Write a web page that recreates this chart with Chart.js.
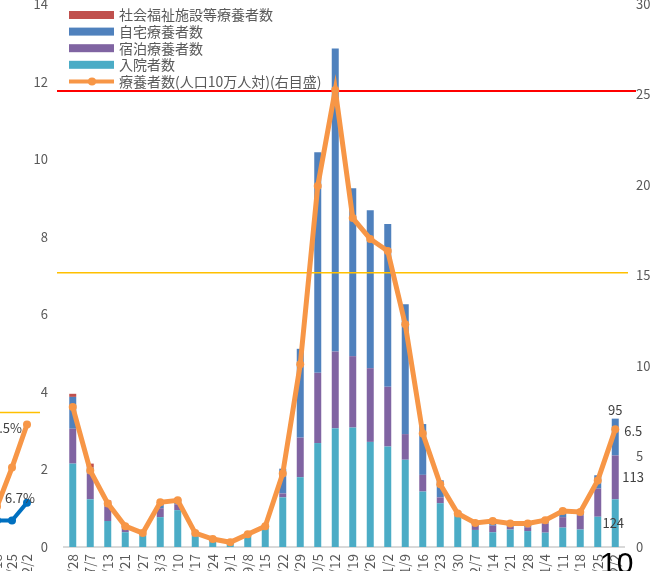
<!DOCTYPE html>
<html>
<head>
<meta charset="utf-8">
<script src="https://cdn.jsdelivr.net/npm/chart.js@4.4.1/dist/chart.umd.min.js"></script>
<style>
  html, body { margin: 0; padding: 0; background: #fff; overflow: hidden; }
  #wrap { position: relative; width: 666px; height: 571px; overflow: hidden; }
  #prev { position: absolute; left: -7px; top: 0; }
  #chart { position: absolute; left: 0; top: 0; }
  #pageNo { position: absolute; left: 600px; top: 548px; font: 30px 'Liberation Sans', sans-serif; line-height: 30px; color: #000; }
</style>
</head>
<body>
<div id="wrap">
  <canvas id="prev" width="47" height="571"></canvas>
  <canvas id="chart" width="666" height="571"></canvas>
  <div id="pageNo">10</div>
</div>
<script>
Chart.defaults.font.family = "'Noto Sans CJK JP', 'Noto Sans', sans-serif"
Chart.defaults.color = '#595959'

// weekly dates (only the tail of each label is visible)
const dates = ['6/28', '7/7', '7/13', '7/21', '7/27', '8/3', '8/10', '8/17', '8/24', '9/1', '9/8', '9/15', '9/22', '9/29', '10/5', '10/12',
    '10/19', '10/26', '11/2', '11/9', '11/16', '11/23', '11/30', '12/7', '12/14', '12/21', '12/28', '1/4', '1/11', '1/18', '1/25', '2/2']

// stacked bars (left axis)
const hospitalized = [2.15, 1.23, 0.67, 0.38, 0.30, 0.77, 0.95, 0.28, 0.18, 0.13, 0.33, 0.55, 1.28, 1.80, 2.68, 3.06,
    3.08, 2.71, 2.59, 2.25, 1.43, 1.13, 0.88, 0.44, 0.38, 0.45, 0.41, 0.37, 0.50, 0.45, 0.78, 1.23]
const hotel = [0.90, 0.67, 0.38, 0.13, 0.02, 0.23, 0.15, 0.05, 0.01, 0, 0.02, 0.02, 0.10, 1.02, 1.81, 1.98,
    1.84, 1.90, 1.54, 0.66, 0.43, 0.15, 0.03, 0.13, 0.17, 0.07, 0.10, 0.24, 0.27, 0.37, 0.73, 1.13]
const home = [0.82, 0.15, 0.08, 0.02, 0, 0.08, 0.10, 0.03, 0, 0, 0, 0, 0.64, 2.29, 5.69, 7.81,
    4.33, 4.07, 4.20, 3.35, 1.31, 0.44, 0.02, 0.08, 0.10, 0.08, 0.13, 0.13, 0.17, 0.08, 0.34, 0.95]
const welfare = [0.08, 0.10, 0.07, 0.03, 0, 0.03, 0.04, 0, 0, 0, 0, 0, 0, 0, 0, 0,
    0, 0, 0, 0, 0, 0, 0, 0, 0, 0, 0, 0, 0, 0, 0, 0]

// line (right axis)
const per100k = [7.73, 4.22, 2.41, 1.15, 0.77, 2.47, 2.58, 0.77, 0.44, 0.26, 0.71, 1.15, 4.06, 10.09, 19.95, 25.25,
    18.17, 17.02, 16.35, 12.30, 6.27, 3.46, 1.85, 1.33, 1.43, 1.30, 1.30, 1.48, 1.99, 1.94, 3.68, 6.50]

// horizontal reference lines on the right axis
const redLevel = 25.2
const yellowLevel = 15.15

// numbers printed next to the last bar
const lastBarLabels = { home: '95', hotel: '113', hospitalized: '124' }
const lastLineLabel = '6.5'

// the neighbouring chart that is cut off at the left edge
const prevDates = ['1/18', '1/25', '2/2']
const prevOrange = [6.1, 12.0, 18.5]
const prevBlue = [4.0, 4.0, 6.7]
const prevYellowLevel = 20.3

const COLORS = {
    welfare: '#C0504D',
    home: '#4F81BD',
    hotel: '#8064A2',
    hospitalized: '#4BACC6',
    line: '#F79646',
}

function bar(label, data, color) {
    return {
        type: 'bar',
        label: label,
        data: data,
        backgroundColor: color,
        borderWidth: 0,
        barPercentage: 0.4,
        categoryPercentage: 1,
        stack: 'a',
        yAxisID: 'y',
        order: 1,
    }
}

const hospitalizedSet = bar('入院者数', hospitalized, COLORS.hospitalized)
const hotelSet = bar('宿泊療養者数', hotel, COLORS.hotel)
const homeSet = bar('自宅療養者数', home, COLORS.home)
const welfareSet = bar('社会福祉施設等療養者数', welfare, COLORS.welfare)

const lineSet = {
    type: 'line',
    label: '療養者数(人口10万人対)(右目盛)',
    data: per100k,
    borderColor: COLORS.line,
    backgroundColor: COLORS.line,
    borderWidth: 5,
    pointRadius: 4,
    pointHoverRadius: 4,
    pointBackgroundColor: COLORS.line,
    pointBorderWidth: 0,
    tension: 0,
    yAxisID: 'y1',
    order: 0,
}

const legendOrder = [welfareSet, homeSet, hotelSet, hospitalizedSet, lineSet]

const excelLegend = {
    id: 'excelLegend',
    afterDraw(chart) {
        const { ctx, chartArea } = chart
        const x0 = chartArea.left + 5
        ctx.save()
        ctx.font = "14px 'Noto Sans CJK JP'"
        ctx.textBaseline = 'middle'
        legendOrder.forEach((ds, i) => {
            const y = chartArea.top + 11 + i * 16.6
            if (ds.type === 'line') {
                ctx.strokeStyle = ds.borderColor
                ctx.lineWidth = 4
                ctx.beginPath()
                ctx.moveTo(x0, y)
                ctx.lineTo(x0 + 45, y)
                ctx.stroke()
                ctx.fillStyle = ds.borderColor
                ctx.beginPath()
                ctx.arc(x0 + 23, y, 4, 0, Math.PI * 2)
                ctx.fill()
            } else {
                ctx.fillStyle = ds.backgroundColor
                ctx.fillRect(x0, y - 4, 45, 8)
            }
            ctx.fillStyle = '#595959'
            ctx.fillText(ds.label, x0 + 50, y)
        })
        ctx.restore()
    }
}

const refLines = {
    id: 'refLines',
    beforeDatasetDraw(chart, args) {
        if (args.meta.type !== 'line') return
        const { ctx, chartArea, scales } = chart
        ctx.save()
        let y = scales.y1.getPixelForValue(yellowLevel)
        ctx.strokeStyle = '#FFC000'
        ctx.lineWidth = 1.5
        ctx.beginPath()
        ctx.moveTo(chartArea.left - 7, y)
        ctx.lineTo(chartArea.right + 4, y)
        ctx.stroke()
        y = scales.y1.getPixelForValue(redLevel)
        ctx.strokeStyle = '#FF0000'
        ctx.lineWidth = 2
        ctx.beginPath()
        ctx.moveTo(chartArea.left - 7, y)
        ctx.lineTo(chartArea.right + 12, y)
        ctx.stroke()
        ctx.restore()
    }
}

const lastLabels = {
    id: 'lastLabels',
    afterDatasetsDraw(chart) {
        const { ctx } = chart
        const last = dates.length - 1
        const barOf = ds => chart.getDatasetMeta(chart.data.datasets.indexOf(ds)).data[last]
        const t = barOf(hospitalizedSet), p = barOf(hotelSet), h = barOf(homeSet)
        const pt = chart.getDatasetMeta(chart.data.datasets.indexOf(lineSet)).data[last]
        ctx.save()
        ctx.font = "13px 'Noto Sans CJK JP'"
        ctx.fillStyle = '#404040'
        ctx.textBaseline = 'middle'
        ctx.textAlign = 'center'
        ctx.fillText(lastBarLabels.home, h.x, h.y - 9)
        ctx.fillText(lastBarLabels.hospitalized, t.x - 2, (t.y + t.base) / 2)
        ctx.textAlign = 'left'
        ctx.fillText(lastLineLabel, pt.x + 9, pt.y + 1.5)
        ctx.fillText(lastBarLabels.hotel, p.x + 7, (p.y + p.base) / 2)
        ctx.restore()
    }
}

const tickFont = { size: 13 }
const dateFont = { size: 13.5 }

new Chart(document.getElementById('chart'), {
    data: {
        labels: dates,
        datasets: [hospitalizedSet, hotelSet, homeSet, welfareSet, lineSet]
    },
    plugins: [refLines, lastLabels, excelLegend],
    options: {
        responsive: false,
        animation: false,
        layout: { padding: 0 },
        plugins: {
            legend: { display: false },
            tooltip: { enabled: false },
        },
        scales: {
            x: {
                stacked: true,
                offset: true,
                grid: { display: false, drawTicks: false },
                border: { display: true, color: '#D9D9D9', width: 2 },
                ticks: { autoSkip: false, minRotation: 90, maxRotation: 90, padding: 7, font: dateFont },
                afterFit: s => { s.height = 24; s.paddingLeft = 0; s.paddingRight = 0 }
            },
            y: {
                stacked: true,
                position: 'left',
                min: 0,
                max: 14,
                grid: { display: false, drawTicks: false },
                border: { display: false },
                ticks: { stepSize: 2, padding: 16, font: tickFont },
                afterFit: s => { s.width = 64; s.paddingTop = 0; s.paddingBottom = 0 }
            },
            y1: {
                position: 'right',
                min: 0,
                max: 30,
                grid: { display: false, drawTicks: false },
                border: { display: false },
                ticks: { stepSize: 5, padding: 12, font: tickFont },
                afterFit: s => { s.width = 42; s.paddingTop = 0; s.paddingBottom = 0 }
            }
        }
    }
})

// left-edge remnant of the previous chart
const prevExtras = {
    id: 'prevExtras',
    beforeDatasetsDraw(chart) {
        const { ctx, chartArea, scales } = chart
        const y = scales.y.getPixelForValue(prevYellowLevel)
        ctx.save()
        ctx.strokeStyle = '#FFC000'
        ctx.lineWidth = 1.5
        ctx.beginPath()
        ctx.moveTo(chartArea.left, y)
        ctx.lineTo(chartArea.right + 13, y)
        ctx.stroke()
        ctx.restore()
    },
    afterDatasetsDraw(chart) {
        const { ctx } = chart
        const o = chart.getDatasetMeta(0).data[2]
        const b = chart.getDatasetMeta(1).data[2]
        ctx.save()
        ctx.font = "13px 'Noto Sans CJK JP'"
        ctx.fillStyle = '#404040'
        ctx.textBaseline = 'middle'
        ctx.textAlign = 'right'
        ctx.fillText(prevOrange[2].toFixed(1) + '%', o.x - 5, o.y + 4)
        ctx.textAlign = 'center'
        ctx.fillText(prevBlue[2].toFixed(1) + '%', b.x - 7, b.y - 5)
        ctx.restore()
    }
}

new Chart(document.getElementById('prev'), {
    type: 'line',
    data: {
        labels: prevDates,
        datasets: [
            { data: prevOrange, borderColor: COLORS.line, backgroundColor: COLORS.line, borderWidth: 5, pointRadius: 4, pointBorderWidth: 0 },
            { data: prevBlue, borderColor: '#0070C0', backgroundColor: '#0070C0', borderWidth: 4, pointRadius: 4, pointBorderWidth: 0 },
        ]
    },
    plugins: [prevExtras],
    options: {
        responsive: false,
        animation: false,
        layout: { padding: { left: 0, right: 13, top: 0, bottom: 0 } },
        plugins: { legend: { display: false }, tooltip: { enabled: false } },
        scales: {
            x: {
                offset: false,
                grid: { display: false, drawTicks: false },
                border: { display: false },
                ticks: { autoSkip: false, minRotation: 90, maxRotation: 90, padding: 7, font: dateFont },
                afterFit: s => { s.height = 24; s.paddingLeft = 0; s.paddingRight = 0 }
            },
            y: {
                display: false,
                min: 0,
                max: 82,
            }
        }
    }
})
</script>
</body>
</html>
